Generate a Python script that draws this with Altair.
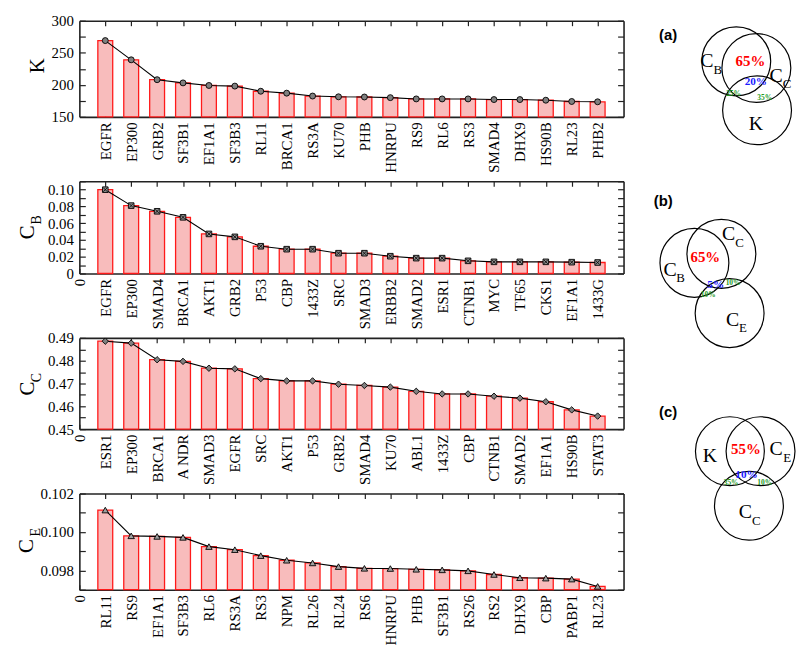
import json
import altair as alt
import pandas as pd

# ---------------- data ----------------
k_names = ["EGFR", "EP300", "GRB2", "SF3B1", "EF1A1", "SF3B3", "RL11", "BRCA1", "RS3A", "KU70",
           "PHB", "HNRPU", "RS9", "RL6", "RS3", "SMAD4", "DHX9", "HS90B", "RL23", "PHB2"]
k_vals = [269, 239, 208, 203, 199, 198, 190, 187, 182.5, 181.3,
          181, 180, 178, 178, 178, 177, 177, 176, 174, 173.5]

cb_names = ["EGFR", "EP300", "SMAD4", "BRCA1", "AKT1", "GRB2", "P53", "CBP", "1433Z", "SRC",
            "SMAD3", "ERBB2", "SMAD2", "ESR1", "CTNB1", "MYC", "TF65", "CKS1", "EF1A1", "1433G"]
cb_vals = [0.100, 0.081, 0.0742, 0.067, 0.0472, 0.0437, 0.0325, 0.029, 0.029, 0.0242,
           0.0242, 0.0206, 0.0183, 0.0183, 0.0151, 0.0139, 0.0139, 0.0139, 0.0135, 0.0131]

cc_names = ["ESR1", "EP300", "BRCA1", "A NDR", "SMAD3", "EGFR", "SRC", "AKT1", "P53", "GRB2",
            "SMAD4", "KU70", "ABL1", "1433Z", "CBP", "CTNB1", "SMAD2", "EF1A1", "HS90B", "STAT3"]
cc_vals = [0.48857, 0.48771, 0.48043, 0.47971, 0.47671, 0.47643, 0.47214, 0.47114, 0.47114, 0.4697,
           0.46914, 0.46843, 0.46657, 0.46543, 0.46543, 0.46443, 0.46357, 0.462, 0.45843, 0.45571]

ce_names = ["RL11", "RS9", "EF1A1", "SF3B3", "RL6", "RS3A", "RS3", "NPM", "RL26", "RL24",
            "RS6", "HNRPU", "PHB", "SF3B1", "RS26", "RS2", "DHX9", "CBP", "PABP1", "RL23"]
ce_vals = [0.10114, 0.0998, 0.09977, 0.09972, 0.09924, 0.09908, 0.09877, 0.09853, 0.09839, 0.0982,
           0.09811, 0.0981, 0.09806, 0.09803, 0.09798, 0.09779, 0.09762, 0.0976, 0.09755, 0.09717]

# Venn diagrams (page coordinates)
venn_circle_x = [741.7, 762.0, 762.7, 699.5, 726.7, 735.0, 735.3, 766.2, 754.5]
venn_circle_y = [60.0, 66.7, 109.3, 263.3, 254.2, 314.0, 453.3, 453.3, 508.3]

venn_panel_text = ["(a)", "(b)", "(c)"]
venn_panel_x = [673, 668, 673]
venn_panel_y = [33, 200.5, 414]

venn_main_text = ["C", "K", "C", "C", "C", "C", "K", "C", "C"]
venn_main_x = [712, 761.5, 782, 734, 675, 738, 715, 782, 751]
venn_main_y = [60, 123.5, 75, 234.5, 270.5, 320.5, 458, 451.5, 515]

venn_sub_text = ["B", "C", "C", "B", "E", "E", "C"]
venn_sub_x = [723, 793, 745, 685.5, 748.5, 793, 762]
venn_sub_y = [68.5, 82.5, 243, 278.5, 329.5, 460.5, 523.5]

venn_pct_text = ["65%", "20%", "25%", "35%", "65%", "5%", "10%", "10%", "55%", "10%", "35%", "10%"]
venn_pct_x = [756, 761.5, 739, 770.5, 710.5, 721, 738.5, 713.5, 751.5, 752, 736.5, 770.5]
venn_pct_y = [59.5, 81, 93, 97, 257, 285.5, 283.5, 296, 451.5, 477.5, 485.5, 485.8]
venn_pct_kind = ["big", "blue", "green", "green", "big", "blue", "green", "green",
                 "big", "blue", "green", "green"]

# ---------------- style ----------------
SERIF = "Liberation Serif"
SANS = "Liberation Sans"
W = 549
HEIGHTS = [97, 93, 92, 97]
SPACING = 65
PL, PT = 79, 19          # page position of the first panel's plot area
PINK = "#f8bcbc"
RED = "#ff1a1a"
NEG_TICK = {"expr": "-6"}
NEG_TICK_X = {"expr": "-5"}


def panel(names, vals, ymin, ymax, tstep, lstep, fmt, h, marker, title_main, title_sub,
          tpos, zero_label):
    n = len(names)
    df = pd.DataFrame({"idx": list(range(1, n + 1)), "name": names, "val": vals})
    base = alt.Chart(df)
    xscale = alt.Scale(domain=[0, n + 1], nice=False, zero=False, padding=0)
    yscale = alt.Scale(domain=[ymin, ymax], nice=False, zero=False, padding=0)
    nt = int(round((ymax - ymin) / tstep))
    yticks = [round(ymin + i * tstep, 6) for i in range(nt + 1)]
    xvals = ([0] if zero_label else []) + list(range(1, n + 1))
    names_js = json.dumps(names)
    x_label_expr = (f"datum.value == 0 ? '0' : (datum.value >= 1 && datum.value <= {n} ? "
                    f"{names_js}[datum.value - 1] : '')")
    y_label_expr = (f"abs(datum.value/{lstep} - round(datum.value/{lstep})) < 0.001 ? "
                    f"(datum.value == 0 ? '0' : format(datum.value, '{fmt}')) : ''")

    bars = base.mark_bar(size=15, fill=PINK, stroke=RED, strokeWidth=1.3).encode(
        x=alt.X("idx:Q", scale=xscale, title=None,
                axis=alt.Axis(orient="bottom", values=xvals, labelExpr=x_label_expr,
                              labelAngle=-90, tickSize=NEG_TICK_X, labelPadding=10,
                              grid=False)),
        y=alt.Y("val:Q", scale=yscale, title=None,
                axis=alt.Axis(orient="left", values=yticks, labelExpr=y_label_expr,
                              tickSize=NEG_TICK, labelPadding=12, grid=False)),
        y2=alt.datum(ymin),
    )
    line = base.mark_line(color="black", strokeWidth=1.1).encode(
        x=alt.X("idx:Q", scale=xscale, title=None,
                axis=alt.Axis(orient="top", values=list(range(1, n + 1)), labels=False,
                              tickSize=NEG_TICK_X, grid=False)),
        y=alt.Y("val:Q", scale=yscale, title=None,
                axis=alt.Axis(orient="right", values=yticks, labels=False,
                              tickSize=NEG_TICK, grid=False)),
    )
    layers = [bars, line]
    shape, fill, size = marker
    layers.append(base.mark_point(shape=shape, filled=True, fill=fill, stroke="black",
                                  strokeWidth=0.9, size=size, opacity=1).encode(
        x=alt.X("idx:Q", scale=xscale, axis=None),
        y=alt.Y("val:Q", scale=yscale, axis=None)))
    if shape == "square":
        layers.append(base.mark_point(shape="M-0.75,-0.75L0.75,0.75M-0.75,0.75L0.75,-0.75",
                                      filled=False, stroke="black", strokeWidth=0.8,
                                      size=size, opacity=1).encode(
            x=alt.X("idx:Q", scale=xscale, axis=None),
            y=alt.Y("val:Q", scale=yscale, axis=None)))
    (mx, my), (sx, sy) = tpos
    tdf = pd.DataFrame({"t": [title_main]})
    layers.append(alt.Chart(tdf).mark_text(font=SERIF, fontSize=21, angle=270,
                                           align="center", baseline="middle",
                                           color="black").encode(
        x=alt.value(mx), y=alt.value(my), text="t:N"))
    if title_sub:
        sdf = pd.DataFrame({"t": [title_sub]})
        layers.append(alt.Chart(sdf).mark_text(font=SERIF, fontSize=14, angle=270,
                                               align="center", baseline="middle",
                                               color="black").encode(
            x=alt.value(sx), y=alt.value(sy), text="t:N"))
    return alt.layer(*layers).resolve_axis(x="independent", y="independent").properties(
        width=W, height=h)


p1 = panel(k_names, k_vals, 150, 300, 25, 50, "d", HEIGHTS[0],
           ("circle", "#808080", 36), "K", None, ((-41.5, 45.5), (0, 0)), False)
p2 = panel(cb_names, cb_vals, 0, 0.11, 0.01, 0.02, ".2f", HEIGHTS[1],
           ("square", "#8c8c8c", 32), "C", "B", ((-52, 51.5), (-42.5, 39)), True)
p3 = panel(cc_names, cc_vals, 0.45, 0.49, 0.005, 0.01, ".2f", HEIGHTS[2],
           ("diamond", "#808080", 42), "C", "C", ((-52, 51), (-42.5, 40)), True)
p4 = panel(ce_names, ce_vals, 0.097, 0.102, 0.001, 0.002, ".3f", HEIGHTS[3],
           ("triangle-up", "#a0a0a0", 42), "C", "E", ((-53, 53), (-44, 39)), True)

# ---------------- Venn diagrams (layered on panel 1, page-coordinate scales) ----------------
vx = alt.Scale(domain=[PL, PL + W], nice=False, zero=False, padding=0)
vy = alt.Scale(domain=[PT + HEIGHTS[0], PT], nice=False, zero=False, padding=0)


def vxy():
    return dict(x=alt.X("x:Q", scale=vx, axis=None), y=alt.Y("y:Q", scale=vy, axis=None))


circles = alt.Chart(pd.DataFrame({"x": venn_circle_x, "y": venn_circle_y})).mark_point(
    shape="circle", filled=False, stroke="black", strokeWidth=1.2, size=4830, opacity=1
).encode(**vxy())

panel_lbl = alt.Chart(pd.DataFrame({"x": venn_panel_x, "y": venn_panel_y,
                                    "t": venn_panel_text})).mark_text(
    font=SANS, fontSize=15, fontWeight="bold", color="black"
).encode(text="t:N", **vxy())

main_lbl = alt.Chart(pd.DataFrame({"x": venn_main_x, "y": venn_main_y,
                                   "t": venn_main_text})).mark_text(
    font=SERIF, fontSize=20, color="black"
).encode(text="t:N", **vxy())

sub_lbl = alt.Chart(pd.DataFrame({"x": venn_sub_x, "y": venn_sub_y,
                                  "t": venn_sub_text})).mark_text(
    font=SERIF, fontSize=13, color="black"
).encode(text="t:N", **vxy())

pct_df = pd.DataFrame({"x": venn_pct_x, "y": venn_pct_y, "t": venn_pct_text,
                       "k": venn_pct_kind})
pct_color = alt.Color("k:N", scale=alt.Scale(domain=["big", "blue", "green"],
                                             range=["#ff0000", "#1a1aff", "#1e9a1e"]),
                      legend=None)
pct_size = alt.Size("k:N", scale=alt.Scale(domain=["big", "blue", "green"],
                                           range=[15, 7.5, 7.5]), legend=None)
pct_lbl = alt.Chart(pct_df).mark_text(font=SERIF, fontWeight="bold").encode(
    text="t:N", color=pct_color, size=pct_size, **vxy())

venn = alt.layer(circles, panel_lbl, main_lbl, sub_lbl, pct_lbl)

p1_full = alt.layer(p1, venn).resolve_scale(x="independent", y="independent")

chart = alt.vconcat(p1_full, p2, p3, p4, spacing=SPACING, bounds="flush").properties(
    padding={"left": 8, "top": 3, "right": 0, "bottom": 0}
).configure_view(stroke=None).configure_axis(
    domainColor="#222222", domainWidth=1.6, tickColor="#222222", tickWidth=1.2,
    labelFont=SERIF, labelFontSize=15, labelColor="black", labelOverlap=False,
    labelBound=False
)

chart.save("out.html", embed_options={"renderer": "svg", "actions": False})
